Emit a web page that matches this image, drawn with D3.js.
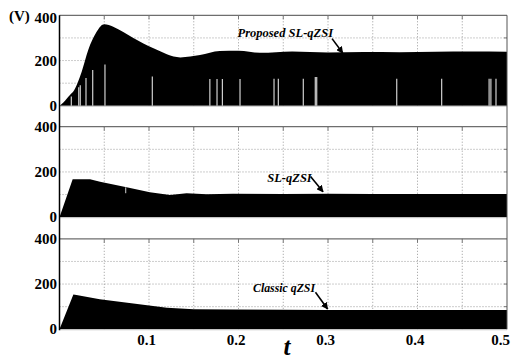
<!DOCTYPE html>
<html>
<head>
<meta charset="utf-8">
<script src="https://cdn.jsdelivr.net/npm/d3@7"></script>
<style>
  html, body { margin: 0; padding: 0; background: #fff; }
  svg { display: block; }
  svg text { font-family: "Liberation Serif", "DejaVu Serif", "Times New Roman", serif !important; }
</style>
</head>
<body>
<script>
// ---- Data: capacitor voltage envelopes (V) vs time (s) ----
const timeTop = [0, 0.0043, 0.0117, 0.0154, 0.0248, 0.032, 0.0415, 0.046, 0.05, 0.055, 0.06, 0.0825, 0.105, 0.135, 0.157, 0.179, 0.2, 0.224, 0.26, 0.3, 0.34, 0.38, 0.42, 0.46, 0.5];
const voltTop = [0, 15, 48, 63, 151, 246, 327, 352, 360, 357, 349, 300, 254, 214, 224, 242, 243, 234, 240, 236, 238, 237, 239, 240, 239];

const timeMid = [0, 0.0147, 0.0341, 0.0453, 0.075, 0.101, 0.1235, 0.142, 0.1645, 0.194, 0.25, 0.3, 0.35, 0.4, 0.45, 0.5];
const voltMid = [0, 168, 168, 157, 132, 110, 98, 106, 101, 104, 103, 104, 103, 103, 103, 103];

const timeBot = [0, 0.0155, 0.019, 0.045, 0.0825, 0.12, 0.15, 0.194, 0.25, 0.3, 0.4, 0.5];
const voltBot = [0, 154, 152, 133, 114, 95, 89, 88, 86, 85, 85, 85];

// shoot-through dips visible in the proposed converter's trace
const spikeTimes = [0.0132, 0.0215, 0.0232, 0.0296, 0.0371, 0.0508, 0.1037, 0.168, 0.176, 0.182, 0.2017, 0.2397, 0.2445, 0.2724, 0.2858, 0.2874, 0.3768, 0.427, 0.480, 0.482, 0.4877];
const spikeVolts = [41, 82, 91, 123, 158, 183, 129, 119, 119, 119, 119, 120, 120, 120, 127, 127, 120, 120, 120, 120, 120];

// small notch in the SL-qZSI trace
const notchTimes = [0.074];
const notchLow = [106];
const notchHigh = [132];

// axis tick labels
const xTickLabels = [0.1, 0.2, 0.3, 0.4, 0.5];
const yTickLabels = [0, 200, 400];

// trace labels and their arrows (in data units of each panel)
const traceNames = ["Proposed SL-qZSI", "SL-qZSI", "Classic qZSI"];
const labelT = [0.3056, 0.2818, 0.2855];
const labelV = [302, 157, 166];
const arrowFromT = [0.3045, 0.2805, 0.2860];
const arrowFromV = [297, 180, 164];
const arrowToT = [0.3165, 0.2945, 0.2995];
const arrowToV = [233, 112, 90];

// ---- Layout ----
const W = 511, H = 361;
const SERIF = "Liberation Serif";
const svg = d3.select("body").append("svg").attr("width", W).attr("height", H);

const defs = svg.append("defs");
defs.append("marker")
  .attr("id", "arrowhead")
  .attr("viewBox", "0 0 10 10")
  .attr("refX", 9).attr("refY", 5)
  .attr("markerWidth", 7).attr("markerHeight", 7)
  .attr("markerUnits", "userSpaceOnUse")
  .attr("orient", "auto")
  .append("path").attr("d", "M0,0 L10,5 L0,10 Z").attr("fill", "#000");

const x = d3.scaleLinear().domain([0, 0.5]).range([59.5, 507]);
const panelTops = [15.3, 126.7, 238.8];
const panelH = 90.5;

const series = [
  { t: timeTop, v: voltTop, curve: d3.curveMonotoneX },
  { t: timeMid, v: voltMid, curve: d3.curveLinear },
  { t: timeBot, v: voltBot, curve: d3.curveLinear }
];

const gridTicks = x.ticks(10).filter(d => d > 0 && d < 0.5);

series.forEach((s, i) => {
  const top = panelTops[i];
  const y = d3.scaleLinear().domain([0, 400]).range([top + panelH, top]);
  const g = svg.append("g");

  // dotted grid
  g.selectAll(".vg").data(gridTicks).join("line")
    .attr("x1", d => x(d)).attr("x2", d => x(d))
    .attr("y1", y(400)).attr("y2", y(0))
    .attr("stroke", "#9a9a9a").attr("stroke-width", 1)
    .attr("stroke-dasharray", "1,2");
  g.selectAll(".hg").data([100, 200, 300]).join("line")
    .attr("x1", x(0)).attr("x2", x(0.5))
    .attr("y1", d => y(d)).attr("y2", d => y(d))
    .attr("stroke", "#9a9a9a").attr("stroke-width", 1)
    .attr("stroke-dasharray", "1,2");

  // top frame with tick marks
  g.append("line")
    .attr("x1", x(0)).attr("x2", x(0.5))
    .attr("y1", y(400)).attr("y2", y(400))
    .attr("stroke", "#6e6e6e").attr("stroke-width", 1.2);
  g.selectAll(".tt").data(gridTicks).join("line")
    .attr("x1", d => x(d)).attr("x2", d => x(d))
    .attr("y1", y(400)).attr("y2", y(400) + 4)
    .attr("stroke", "#777").attr("stroke-width", 1);
  g.selectAll(".rt").data([100, 200, 300]).join("line")
    .attr("x1", x(0.5) - 3).attr("x2", x(0.5))
    .attr("y1", d => y(d)).attr("y2", d => y(d))
    .attr("stroke", "#777").attr("stroke-width", 1);

  // voltage envelope
  const pts = s.t.map((t, k) => [t, s.v[k]]);
  const area = d3.area()
    .x(d => x(d[0]))
    .y0(y(0))
    .y1(d => y(d[1]))
    .curve(s.curve);
  g.append("path").datum(pts).attr("d", area).attr("fill", "#000");

  // baseline
  g.append("line")
    .attr("x1", x(0)).attr("x2", x(0.5))
    .attr("y1", y(0) + 0.5).attr("y2", y(0) + 0.5)
    .attr("stroke", "#c8c8c8").attr("stroke-width", 1);

  if (i === 0) {
    g.selectAll(".sp").data(spikeTimes).join("line")
      .attr("x1", d => x(d)).attr("x2", d => x(d))
      .attr("y1", y(0)).attr("y2", (d, k) => y(spikeVolts[k]))
      .attr("stroke", "#d0d0d0").attr("stroke-width", 1.2);
  }
  if (i === 1) {
    g.selectAll(".nt").data(notchTimes).join("line")
      .attr("x1", d => x(d)).attr("x2", d => x(d))
      .attr("y1", (d, k) => y(notchLow[k])).attr("y2", (d, k) => y(notchHigh[k]))
      .attr("stroke", "#d0d0d0").attr("stroke-width", 1);
  }

  // y tick labels
  g.selectAll(".yl").data(yTickLabels).join("text")
    .style("font-family", SERIF)
    .attr("x", 57).attr("y", d => y(d))
    .attr("dy", d => (i === 0 && d === 400) ? "0.5em" : "0.34em")
    .attr("text-anchor", "end")
    .attr("font-size", 15).attr("font-weight", "bold")
    .text(d => d);

  // trace label + arrow
  g.append("text")
    .style("font-family", SERIF)
    .attr("x", x(labelT[i])).attr("y", y(labelV[i]))
    .attr("text-anchor", "end")
    .attr("font-size", i === 2 ? 11.8 : 12.5)
    .attr("font-style", "italic").attr("font-weight", "bold")
    .text(traceNames[i]);
  g.append("line")
    .attr("x1", x(arrowFromT[i])).attr("y1", y(arrowFromV[i]))
    .attr("x2", x(arrowToT[i])).attr("y2", y(arrowToV[i]))
    .attr("stroke", "#000").attr("stroke-width", 1.6)
    .attr("marker-end", "url(#arrowhead)");
});

// left axis and right frame spanning all panels
const yTop = panelTops[0], yBottom = panelTops[2] + panelH;
svg.append("line")
  .attr("x1", x(0)).attr("x2", x(0))
  .attr("y1", yTop).attr("y2", yBottom + 1)
  .attr("stroke", "#000").attr("stroke-width", 1.5);
svg.append("line")
  .attr("x1", x(0.5)).attr("x2", x(0.5))
  .attr("y1", yTop).attr("y2", yBottom)
  .attr("stroke", "#555").attr("stroke-width", 1);

// x tick labels (the last one is kept inside the page edge)
svg.selectAll(".xl").data(xTickLabels).join("text")
  .style("font-family", SERIF)
  .attr("x", d => d === 0.5 ? W - 1 : x(d) - 2.5).attr("y", 344.5)
  .attr("text-anchor", d => d === 0.5 ? "end" : "middle")
  .attr("font-size", 15).attr("font-weight", "bold")
  .text(d => d.toFixed(1));

// unit and axis title
svg.append("text")
  .style("font-family", SERIF)
  .attr("x", 9).attr("y", 21)
  .attr("font-size", 15).attr("font-weight", "bold")
  .text("(V)");
svg.append("text")
  .style("font-family", SERIF)
  .attr("x", 287).attr("y", 355)
  .attr("text-anchor", "middle")
  .attr("font-size", 25).attr("font-style", "italic").attr("font-weight", "bold")
  .text("t");
</script>
</body>
</html>
